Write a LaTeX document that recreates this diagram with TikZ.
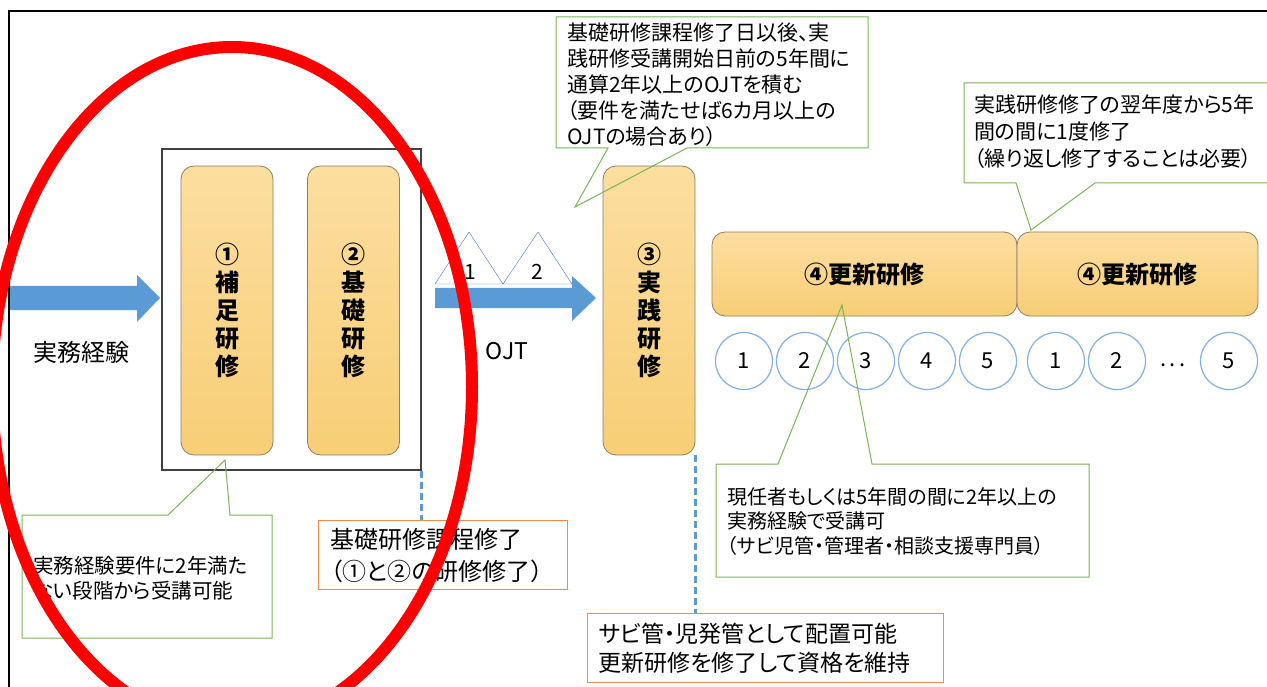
\documentclass[tikz,border=0pt]{standalone}
\usepackage{fontspec}
\setmainfont{Noto Sans CJK JP}[RawFeature=+palt]
\usepackage{tikz}

\definecolor{kentop}{RGB}{252,222,160}
\definecolor{kenbot}{RGB}{248,206,118}
\definecolor{kenline}{RGB}{140,125,100}
\definecolor{arrowblue}{RGB}{91,155,213}
\definecolor{triblue}{RGB}{68,114,196}
\definecolor{circblue}{RGB}{130,175,225}
\definecolor{callgreen}{RGB}{120,180,85}
\definecolor{boxorange}{RGB}{240,140,70}

\begin{document}
\begin{tikzpicture}[x=1pt,y=-1pt,
  kenbox/.style={draw=kenline, line width=0.8pt, rounded corners=13pt, top color=kentop, bottom color=kenbot, inner sep=0pt, align=center, font=\bfseries\fontsize{24}{28}\selectfont},
  numc/.style={circle, draw=circblue, line width=1.2pt, minimum size=57pt, inner sep=0pt, font=\fontsize{22}{22}\selectfont},
  callout/.style={draw=callgreen, line width=1pt},
  txt/.style={inner sep=0pt, align=left, anchor=north west},
  obox/.style={draw=boxorange, line width=1.2pt, align=left, minimum height=69pt, anchor=north west, inner ysep=0pt},
  kendash/.style={draw=arrowblue, line width=2.5pt, dash pattern=on 7pt off 4pt}]
	\useasboundingbox (0,0) rectangle (1267,687);
	\clip (0,0) rectangle (1267,687);
	% frame
	\draw[line width=2pt] (9,720) -- (9,11) -- (1300,11);
	% experience arrow
	\fill[arrowblue] (10,286) -- (137,286) -- (137,275) -- (160,298) -- (137,322) -- (137,310) -- (10,310) -- cycle;
	\node[font=\fontsize{24}{24}\selectfont] (jitsumu) at (82,352) {実務経験};
	% supplementary and basic training
	\node[draw=black!75, line width=1.2pt, minimum width=259, minimum height=321, inner sep=0pt] (kisobox) at (291.5,309.5) {};
	\node[kenbox, minimum width=92, minimum height=289] (hosoku) at (227,310.5) {①\\補\\足\\研\\修};
	\node[kenbox, minimum width=92, minimum height=289] (kiso) at (353.5,310.5) {②\\基\\礎\\研\\修};
	% OJT
	\draw[triblue, fill=white] (435,284) -- (469,232) -- (503,284) -- cycle;
	\draw[triblue, fill=white] (503,284) -- (538,232) -- (572,284) -- cycle;
	\node[font=\fontsize{21}{21}\selectfont] (tri1) at (470,272) {1};
	\node[font=\fontsize{21}{21}\selectfont] (tri2) at (537,272) {2};
	\fill[arrowblue] (435,288) -- (572,288) -- (572,276) -- (596,298) -- (572,321) -- (572,308) -- (435,308) -- cycle;
	\node[font=\fontsize{23}{23}\selectfont] (ojt) at (507,351) {OJT};
	% practical training
	\node[kenbox, minimum width=92, minimum height=289] (jissen) at (649,310.5) {③\\実\\践\\研\\修};
	% renewal training
	\node[kenbox, minimum width=305, minimum height=84] (koshin1) at (864.5,274) {④更新研修};
	\node[kenbox, minimum width=241, minimum height=84] (koshin2) at (1137.5,274) {④更新研修};
	\node[numc] (y1) at (744,361) {1};
	\node[numc] (y2) at (805,361) {2};
	\node[numc] (y3) at (866,361) {3};
	\node[numc] (y4) at (927,361) {4};
	\node[numc] (y5) at (988,361) {5};
	\node[numc] (z1) at (1056,361) {1};
	\node[numc] (z2) at (1117,361) {2};
	\node[font=\fontsize{22}{22}\selectfont] (zdots) at (1173,365) {.\kern3pt.\kern3pt.};
	\node[numc] (z5) at (1229,361) {5};
	% callouts
	\draw[callout] (556,17) -- (868,17) -- (868,148) -- (687,148) -- (575,207) -- (608,148) -- (556,148) -- cycle;
	\node[txt, font=\fontsize{21}{26}\selectfont] (ojtnote) at (567,23) {基礎研修課程修了日以後、実\\践研修受講開始日前の5年間に\\通算2年以上のOJTを積む\\（要件を満たせば6カ月以上の\\OJTの場合あり）};
	\draw[callout] (964,83) -- (1268,83) -- (1268,183) -- (1095,183) -- (1031,230) -- (1016,183) -- (964,183) -- cycle;
	\node[txt, font=\fontsize{21}{27}\selectfont] (koshinnote) at (974,95) {実践研修修了の翌年度から5年\\間の間に1度修了\\（繰り返し修了することは必要）};
	\draw[callout] (22,515) -- (168,515) -- (225,460) -- (230,515) -- (272,515) -- (272,638) -- (22,638) -- cycle;
	\node[txt, font=\fontsize{20.5}{25}\selectfont] (hosokunote) at (33,556) {実務経験要件に2年満た\\ない段階から受講可能};
	\draw[callout] (716,464) -- (778,464) -- (842,305) -- (872,464) -- (1089,464) -- (1089,577) -- (716,577) -- cycle;
	\node[txt, font=\fontsize{20}{24.5}\selectfont] (jukonote) at (727,487) {現任者もしくは5年間の間に2年以上の\\実務経験で受講可\\（サビ児管・管理者・相談支援専門員）};
	% completion boxes
	\node[obox, minimum width=249, text width=225, inner xsep=12pt, font=\fontsize{24}{32}\selectfont] (done) at (318,520) {基礎研修課程修了\\（①と②の研修修了）};
	\node[obox, minimum width=356, text width=334, inner xsep=11pt, font=\fontsize{23}{29}\selectfont] (haichi) at (587,613) {サビ管・児発管として配置可能\\更新研修を修了して資格を維持};
	\draw[kendash] (kisobox.south east) -- (kisobox.south east |- done.north);
	\draw[kendash] (jissen.south east) -- (jissen.south east |- haichi.north);
	% red mark
	\draw[red, line width=12pt] (232,387) ellipse [x radius=240pt, y radius=340pt];
\end{tikzpicture}
\end{document}
